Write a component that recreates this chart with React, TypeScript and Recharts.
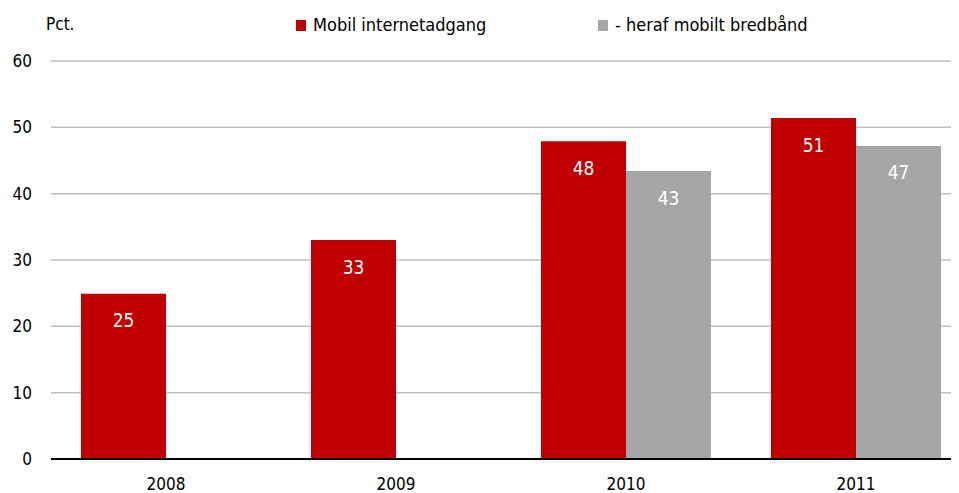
import React from 'react';
import {
  BarChart,
  Bar,
  XAxis,
  YAxis,
  CartesianGrid,
  LabelList
} from 'recharts';

const years = ['2008', '2009', '2010', '2011'];
const mobilInternet = [24.9, 33.0, 47.9, 51.4];
const mobilBredbaand: (number | null)[] = [null, null, 43.4, 47.2];
const yTicks = [0, 10, 20, 30, 40, 50, 60];

const FONT = '"DejaVu Sans Condensed", "DejaVu Sans", sans-serif';
const textStyle: React.CSSProperties = { fontFamily: FONT, fontStretch: 'condensed' };

const data = years.map((year, i) => ({
  year,
  internet: mobilInternet[i],
  bredbaand: mobilBredbaand[i]
}));

const legendItems = [
  { label: 'Mobil internetadgang', color: '#c00000', left: 288 },
  { label: '- heraf mobilt bredbånd', color: '#a6a6a6', left: 590 }
];

// legend + "Pct." drawn over the chart, so they don't push the plot down
const TopLegend = () => (
  <div
    style={{
      position: 'absolute',
      left: 0,
      top: 0,
      width: 951,
      height: 40,
      fontSize: 18,
      lineHeight: '22px',
      color: '#000',
      ...textStyle
    }}
  >
    <span style={{ position: 'absolute', left: 38, top: 5, fontSize: 17 }}>Pct.</span>
    {legendItems.map(item => (
      <div key={item.label} style={{ position: 'absolute', left: item.left, top: 6, whiteSpace: 'nowrap' }}>
        <span
          style={{
            position: 'absolute',
            left: 0,
            top: 6,
            width: 10,
            height: 11,
            background: item.color
          }}
        />
        <span style={{ position: 'absolute', left: 17, top: 0 }}>{item.label}</span>
      </div>
    ))}
  </div>
);

const roundLabel = (v: any) => (v == null ? '' : Math.round(Number(v)).toString());

export default function App() {
  return (
    <div style={{ position: 'relative', width: 951, height: 485, overflow: 'hidden' }}>
      <BarChart
        width={980}
        height={485}
        data={data}
        margin={{ top: 53, right: 17, bottom: 0, left: 0 }}
        barCategoryGap={30}
        barGap={0}
      >
        <CartesianGrid vertical={false} stroke="#bfbfbf" strokeWidth={1.5} />
        <XAxis
          dataKey="year"
          height={34}
          tickLine={false}
          axisLine={{ stroke: '#000', strokeWidth: 2 }}
          tickSize={0}
          tickMargin={19}
          tick={{ fill: '#000', fontSize: 17, ...textStyle }}
        />
        <YAxis
          width={43}
          domain={[0, 60]}
          ticks={yTicks}
          tickLine={false}
          axisLine={false}
          tickSize={0}
          tickMargin={19}
          tick={{ fill: '#000', fontSize: 17, ...textStyle }}
        />
        <Bar dataKey="internet" name="Mobil internetadgang" fill="#c00000" isAnimationActive={false}>
          <LabelList
            dataKey="internet"
            position="insideTop"
            offset={20}
            formatter={roundLabel}
            style={{ fill: '#fff', fontSize: 19, ...textStyle }}
          />
        </Bar>
        <Bar dataKey="bredbaand" name="- heraf mobilt bredbånd" fill="#a6a6a6" isAnimationActive={false}>
          <LabelList
            dataKey="bredbaand"
            position="insideTop"
            offset={20}
            formatter={roundLabel}
            style={{ fill: '#fff', fontSize: 19, ...textStyle }}
          />
        </Bar>
      </BarChart>
      <TopLegend />
    </div>
  );
}
